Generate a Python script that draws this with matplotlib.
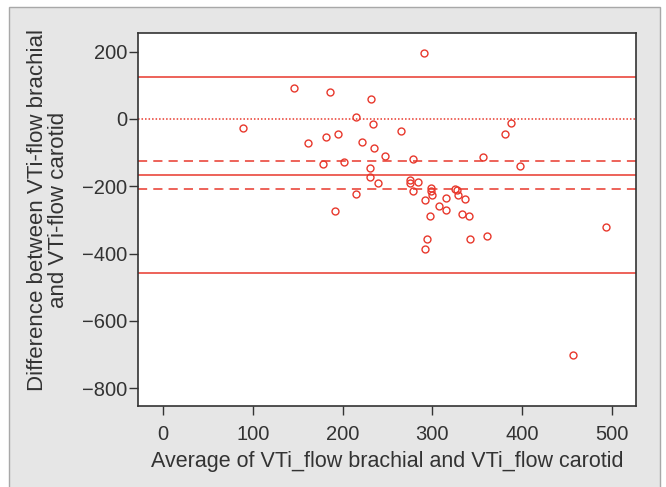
import matplotlib
matplotlib.use("Agg")
import matplotlib.pyplot as plt
from matplotlib.patches import Rectangle

# Data
x_avg = [89.5, 146, 162, 178.5, 181, 185.6, 191, 195, 202, 214.5,
         215, 221.6, 230.6, 230.6, 231.5, 234.4, 235, 239, 247, 264.7,
         274.6, 275.6, 279, 279, 284, 291, 291.7, 292, 294.5, 297.8,
         298, 298, 299.7, 307.8, 314.9, 315.8, 325.3, 328, 329, 332.9,
         336, 341.4, 341.9, 357, 361, 380.7, 387.8, 397.7, 456.4, 493.8]
y_diff = [-27, 92, -71, -134, -55, 81, -273, -45, -128, 5,
          -223, -68, -147, -172, 60, -15, -87, -190, -111, -37,
          -182, -190, -118, -214, -189, 196, -242, -388, -358, -290,
          -204, -214, -227, -260, -235, -270, -207, -211, -227, -284,
          -239, -289, -357, -114, -349, -44, -12, -141, -701, -322]

zero_line = 0
mean_diff = -167
loa_upper = 123
loa_lower = -458
ci_upper = -126
ci_lower = -209

x_ticks = [0, 100, 200, 300, 400, 500]
y_ticks = [200, 0, -200, -400, -600, -800]

red = '#e8382c'
txt = '#333333'

plt.rcParams['font.family'] = ['Liberation Sans', 'DejaVu Sans']
plt.rcParams['axes.unicode_minus'] = True

fig = plt.figure(figsize=(6.66, 4.87), dpi=100, facecolor='white')
# grey panel
panel = Rectangle((9/666, -0.01), (660-9)/666, 1 - 6.7/487 + 0.01,
                  transform=fig.transFigure, facecolor='#e6e6e6',
                  edgecolor='#a8a8a8', linewidth=1.0, zorder=-10)
fig.patches.append(panel)

ax = fig.add_axes([138/666, 1 - 406/487, (636-138)/666, (406-33)/487])
ax.set_zorder(1)
ax.set_facecolor('white')

ax.axhline(loa_upper, color=red, lw=1.1, ls='-')
ax.axhline(zero_line, color=red, lw=1.1, ls=(0, (1, 1.3)))
ax.axhline(ci_upper, color=red, lw=1.1, ls=(0, (6, 4)))
ax.axhline(mean_diff, color=red, lw=1.1, ls='-')
ax.axhline(ci_lower, color=red, lw=1.1, ls=(0, (6, 4)))
ax.axhline(loa_lower, color=red, lw=1.1, ls='-')

ax.plot(x_avg, y_diff, ls='none', marker='o', ms=5, mfc='none', mec=red, mew=1.0)

ax.set_xlim(-28, 527)
ax.set_ylim(-853, 255)
ax.set_xticks(x_ticks)
ax.set_yticks(y_ticks)

for s in ax.spines.values():
    s.set_color('#333333')
    s.set_linewidth(1.2)

ax.tick_params(axis='both', direction='out', length=6.5, width=1.0, color='#333333',
               labelsize=14.5, labelcolor=txt)
ax.tick_params(axis='y', pad=1)
ax.tick_params(axis='x', pad=7)

ax.set_xlabel('Average of VTi_flow brachial and VTi_flow carotid', fontsize=15.5, color=txt, labelpad=5)
ax.set_ylabel('Difference between VTi-flow brachial\nand VTi-flow carotid', fontsize=16,
              color=txt, linespacing=1.0)
ax.yaxis.set_label_coords(-69/498, (406-210)/373)

fig.savefig('out.png', dpi=100, facecolor='white')
